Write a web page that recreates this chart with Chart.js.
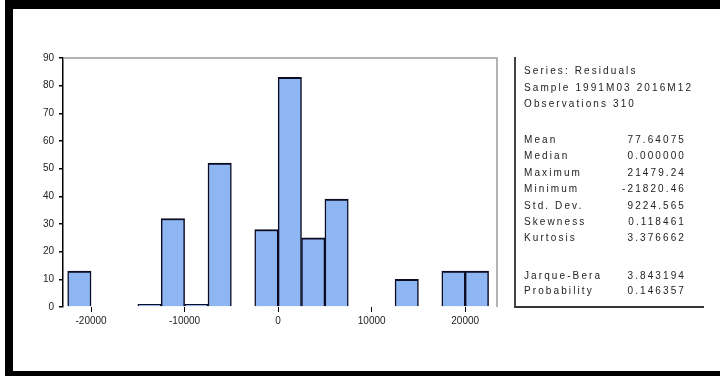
<!DOCTYPE html>
<html>
<head>
<meta charset="utf-8">
<script src="https://cdn.jsdelivr.net/npm/chart.js@4"></script>
<style>
    body { margin: 0; background: #fff; font-family: "Liberation Sans", Arial, sans-serif; }
    #wrap { position: relative; width: 720px; height: 376px; overflow: hidden; }
    #chart { position: absolute; left: 0; top: 0; }
    #frame {
        position: absolute; left: 5px; top: 0; width: 707px; height: 362px;
        border-top: 9px solid #000; border-left: 8px solid #000; border-bottom: 5px solid #000;
    }
    #stats {
        position: absolute; left: 514px; top: 57px; width: 188px; height: 249px;
        border-left: 2px solid #444; border-bottom: 2px solid #333;
        font-size: 10px; color: #222; letter-spacing: 2.1px;
    }
    #stats div { position: absolute; left: 8px; right: 0; white-space: nowrap; }
    #stats span { position: absolute; right: 18px; top: 0; }
</style>
</head>
<body>
<div id="wrap">
    <canvas id="chart" width="720" height="376"></canvas>
    <div id="frame"></div>
    <div id="stats"></div>
</div>
<script>
// histogram bins (width 2500), centre of each non-empty bin and its count
const binCenters = [-21250, -13750, -11250, -8750, -6250, -1250, 1250, 3750, 6250, 13750, 18750, 21250];
const binCounts = [13, 1, 32, 1, 52, 28, 83, 25, 39, 10, 13, 13];
const xTicks = [-20000, -10000, 0, 10000, 20000];
const yTicks = [0, 10, 20, 30, 40, 50, 60, 70, 80, 90];

const headerLines = ['Series: Residuals', 'Sample 1991M03 2016M12', 'Observations 310'];
const statNames = ['Mean', 'Median', 'Maximum', 'Minimum', 'Std. Dev.', 'Skewness', 'Kurtosis'];
const statValues = ['77.64075', '0.000000', '21479.24', '-21820.46', '9224.565', '0.118461', '3.376662'];
const testNames = ['Jarque-Bera', 'Probability'];
const testValues = ['3.843194', '0.146357'];

// stats box
const stats = document.getElementById('stats');
function addRow(label, value, top) {
    const d = document.createElement('div');
    d.style.top = top + 'px';
    d.textContent = label;
    if (value !== undefined) {
        const s = document.createElement('span');
        s.textContent = value;
        d.appendChild(s);
    }
    stats.appendChild(d);
}
headerLines.forEach((t, i) => addRow(t, undefined, 8 + i * 16.5));
statNames.forEach((t, i) => addRow(t, statValues[i], 77 + i * 16.4));
testNames.forEach((t, i) => addRow(t, testValues[i], 213 + i * 15));

const frameLines = {
    id: 'frameLines',
    afterDraw(chart) {
        const { ctx, chartArea: a } = chart;
        ctx.save();
        ctx.strokeStyle = '#9a9a9a';
        ctx.lineWidth = 1.5;
        ctx.beginPath();
        ctx.moveTo(a.left, a.top);
        ctx.lineTo(a.right, a.top);
        ctx.lineTo(a.right, a.bottom);
        ctx.stroke();
        ctx.restore();
    }
};

new Chart(document.getElementById('chart'), {
    type: 'bar',
    data: {
        datasets: [{
            data: binCenters.map((c, i) => ({ x: c, y: binCounts[i] })),
            backgroundColor: '#8db6f3',
            borderColor: '#0b0b22',
            borderWidth: { top: 2, left: 1.5, right: 1.5, bottom: 0 },
            borderSkipped: false,
            categoryPercentage: 1,
            barPercentage: 1
        }]
    },
    options: {
        responsive: false,
        animation: false,
        events: [],
        layout: { padding: { top: 58, right: 223, left: 0, bottom: 0 } },
        plugins: { legend: { display: false }, tooltip: { enabled: false } },
        scales: {
            x: {
                type: 'linear',
                offset: false,
                min: -23000,
                max: 23400,
                afterBuildTicks: s => { s.ticks = xTicks.map(v => ({ value: v })); },
                afterFit: s => { s.height = 69; },
                border: { display: false },
                grid: { offset: false, drawOnChartArea: false, tickLength: 5, color: '#000', lineWidth: 1 },
                ticks: {
                    padding: 3, color: '#222', font: { size: 10, family: 'Liberation Sans' },
                    callback: v => String(v)
                }
            },
            y: {
                min: 0,
                max: 90,
                afterBuildTicks: s => { s.ticks = yTicks.map(v => ({ value: v })); },
                afterFit: s => { s.width = 63; },
                border: { color: '#000', width: 1.5 },
                grid: { drawOnChartArea: false, tickLength: 4, color: '#000', lineWidth: 1.5 },
                ticks: { padding: 5, color: '#222', font: { size: 10, family: 'Liberation Sans' } }
            }
        }
    },
    plugins: [frameLines]
});
</script>
</body>
</html>
